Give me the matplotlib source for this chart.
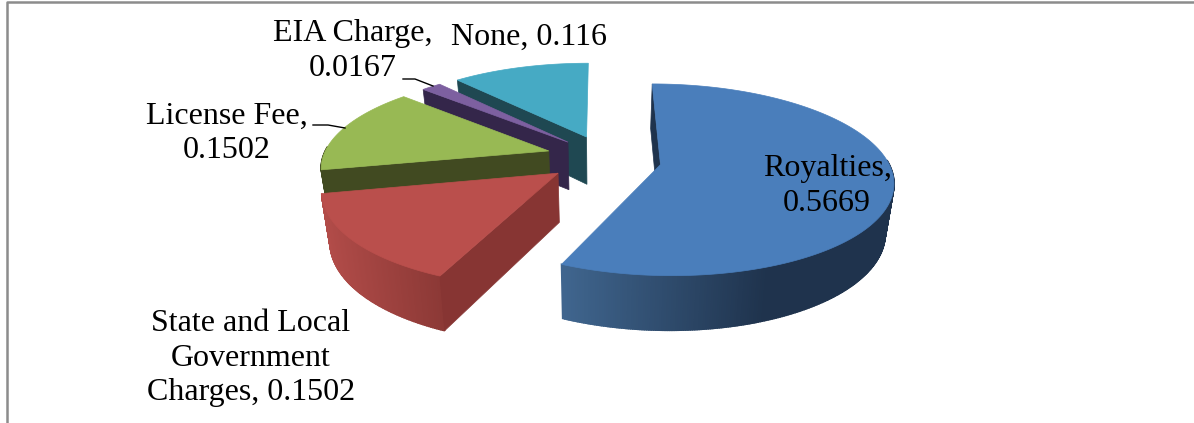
import numpy as np
import matplotlib
matplotlib.use("Agg")
import matplotlib.pyplot as plt
from matplotlib.colors import to_rgb

plt.rcParams["font.family"] = ["Liberation Serif", "DejaVu Serif"]

# data
names = ["Royalties", "State and Local\nGovernment\nCharges", "License Fee", "EIA Charge", "None"]
shares = [0.5669, 0.1502, 0.1502, 0.0167, 0.116]
label_text = ["Royalties,\n0.5669", "State and Local\nGovernment\nCharges, 0.1502",
              "License Fee,\n0.1502", "EIA Charge,\n0.0167", "None, 0.116"]

# styling per slice
top_colors = ["#4A7EBB", "#BA4F4C", "#98B954", "#7D60A0", "#46AAC4"]
face_colors = ["#1F334D", "#873533", "#414A21", "#34264A", "#1F4852"]
rim_left = ["#40668F", "#B24C49", "#414A21", "#34264A", "#1F4852"]
rim_right = ["#1F334D", "#8C3936", "#414A21", "#34264A", "#1F4852"]
explode_x = [60, -41, -52, -33, -14]
explode_y = [0.05, 0.14, -0.10, -0.20, -0.26]
label_xy = [(827, 186), (251, 358), (227, 133), (353, 51), (529, 37)]

# fake 3d camera
XC, Y0 = 600, 160
RX, RY, DEPTH = 227, 92, 50
PERSP = 0.157
TAPER = 0.03


def project(x, y, z):
    k = (1 - TAPER * z) / (1 - PERSP * y)
    return XC + x * k, Y0 + (RY * y + DEPTH * z) * k


def rim_point(i, deg, z):
    t = np.radians(deg)
    return project(explode_x[i] + RX * np.sin(t), explode_y[i] - np.cos(t), z)


fig = plt.figure(figsize=(11.94, 4.23), dpi=100)
ax = fig.add_axes([0, 0, 1, 1])
ax.set_xlim(0, 1194)
ax.set_ylim(423, 0)
ax.axis("off")

edges = np.concatenate([[0], np.cumsum(shares) * 360])

# back slices first, blue last
for i in [4, 3, 2, 1, 0]:
    a0, a1 = edges[i], edges[i + 1]
    angles = np.linspace(a0, a1, max(int(a1 - a0) * 2, 4))
    apex_top = project(explode_x[i], explode_y[i], 0)
    apex_bot = project(explode_x[i], explode_y[i], 1)

    # outer wall, strips shaded by screen x, only the part facing the camera
    front = angles[np.cos(np.radians(angles)) < 0.05]
    if len(front) > 1:
        xs = [rim_point(i, a, 0)[0] for a in front]
        lo, hi = min(xs), max(xs)
        c0, c1 = np.array(to_rgb(rim_left[i])), np.array(to_rgb(rim_right[i]))
        for a, b in zip(front[:-1], front[1:]):
            p = [rim_point(i, a, 0), rim_point(i, b, 0), rim_point(i, b, 1), rim_point(i, a, 1)]
            f = (p[0][0] - lo) / (hi - lo)
            f = min(f / 0.62, 1) if i == 0 else f
            col = c0 + (c1 - c0) * f
            ax.fill(*zip(*p), color=col, lw=1.2, zorder=5 - i)

    # cut face at the start angle
    p = [apex_top, rim_point(i, a0, 0), rim_point(i, a0, 1), apex_bot]
    ax.fill(*zip(*p), color=face_colors[i], lw=0.5, zorder=5 - i)

    # top
    poly = [apex_top] + [rim_point(i, a, 0) for a in angles]
    ax.fill(*zip(*poly), color=top_colors[i], lw=0.5, zorder=5 - i)

for txt, (x, y) in zip(label_text, label_xy):
    ax.text(x, y, txt, ha="center", va="center", fontsize=23, color="black",
            linespacing=1.24, zorder=10)

# leader lines
ax.plot(*zip((403, 79), (415, 79), (433, 86)), color="black", lw=1, zorder=9)
ax.plot(*zip((313, 125), (328, 125), (345, 128)), color="black", lw=1, zorder=9)

# frame left over from the page
ax.plot([7, 7, 1194], [423, 2.5, 2.5], color="#8C8C8C", lw=1.8, zorder=1)

fig.savefig("out.png", dpi=100)
